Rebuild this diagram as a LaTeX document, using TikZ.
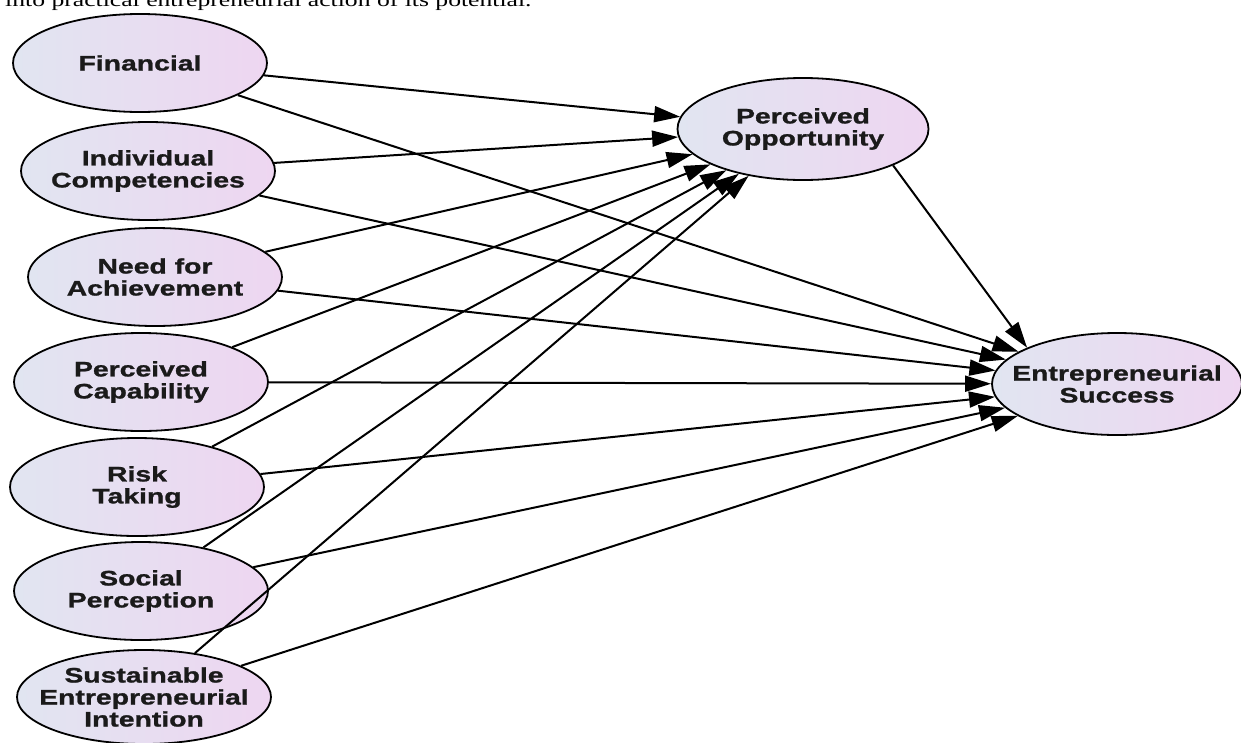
\documentclass[tikz,border=0pt]{standalone}
\usepackage{fontspec}
\newfontfamily\lbl[FakeStretch=1.35,FakeBold=1.2]{Liberation Sans}
\newfontfamily\serifface{Liberation Serif}
\usetikzlibrary{arrows.meta,shapes.geometric}
\definecolor{fillL}{HTML}{E1E5F1}
\definecolor{fillR}{HTML}{EED6F1}
\definecolor{txt}{HTML}{1A1A1A}
\begin{document}
\begin{tikzpicture}[x=1pt,y=-1pt,
  latent/.style={shape=ellipse, draw=black, line width=1.8pt, inner sep=0pt,
    minimum width=254pt, minimum height=98pt, left color=fillL, right color=fillR,
    label={[align=center, text=txt, inner sep=0pt, font=\lbl\bfseries\fontsize{21}{22}\selectfont]center:#1}},
  path/.style={draw=black, line width=2pt, -{Triangle[length=26pt,width=16pt]}}]
\clip (0,0) rectangle (1241,742);
\useasboundingbox (0,0) rectangle (1241,742);
\node[anchor=base west, inner sep=0pt, font=\serifface\fontsize{19}{19}\selectfont] (top) at (5,6) {\scalebox{1.35}[1]{into practical entrepreneurial action of its potential.}};
\node[latent={Financial}] (fin) at (140,63) {};
\node[latent={Individual\\Competencies}] (ic) at (148,171) {};
\node[latent={Need for\\Achievement}] (na) at (155,277) {};
\node[latent={Perceived\\Capability}] (pc) at (141,382) {};
\node[latent={Risk\\Taking}] (rt) at (137,487) {};
\node[latent={Social\\Perception}] (sp) at (141,591) {};
\node[latent={Sustainable\\Entrepreneurial\\Intention}, minimum height=94pt] (sei) at (144,697) {};
\node[latent={Perceived\\Opportunity}, minimum width=251pt, minimum height=102pt] (po) at (803,129) {};
\node[latent={Entrepreneurial\\Success}, minimum width=250pt, minimum height=102pt] (es) at (1117,384) {};
\foreach \s in {fin,ic,na,pc,rt,sp,sei}{
  \draw[path] (\s) -- (po);
  \draw[path] (\s) -- (es);
}
\draw[path] (po.-22) -- (es.158);
\end{tikzpicture}
\end{document}
